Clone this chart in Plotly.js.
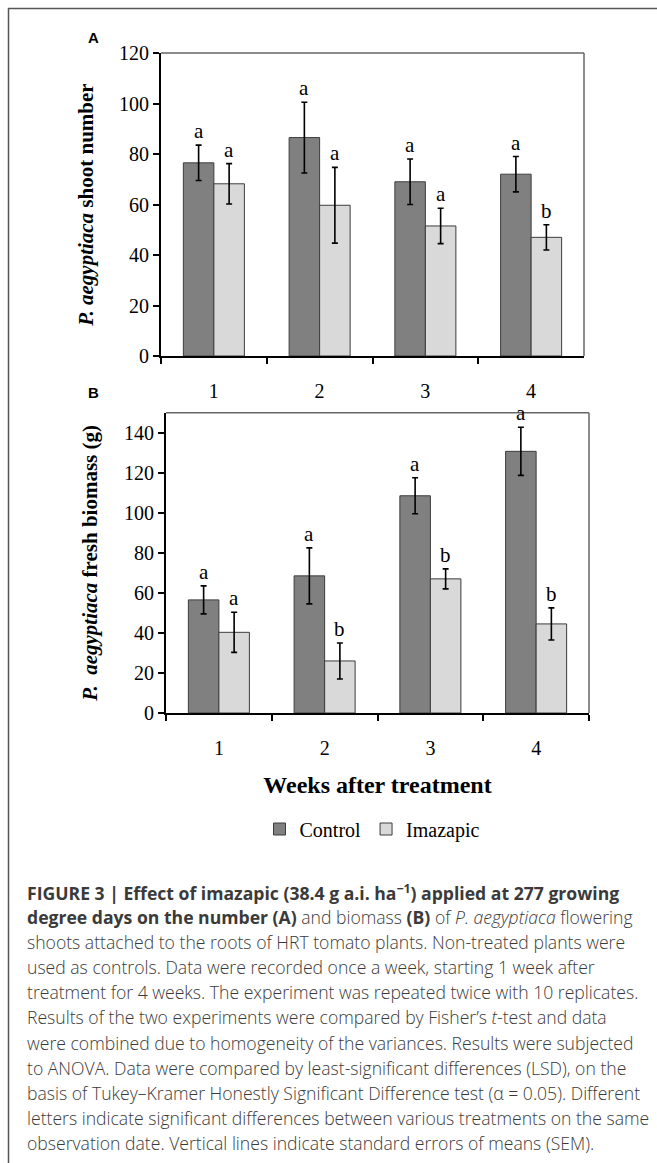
<!DOCTYPE html>
<html>
<head>
<meta charset="utf-8">
<script src="https://cdn.plot.ly/plotly-3.0.1.min.js"></script>
<style>html,body{margin:0;padding:0;background:#fff;}#chart{width:657px;height:1163px;}</style>
</head>
<body>
<div id="chart"></div>
<script>
// ---- data ----
var weeks = ['1', '2', '3', '4'];
var seriesNames = ['Control', 'Imazapic'];

var shootControl = [76.5, 86.5, 69.0, 72.0];
var shootControlErr = [7, 14, 9, 7];
var shootImazapic = [68.2, 59.7, 51.5, 47.0];
var shootImazapicErr = [8, 15, 7, 5];

var massControl = [56.5, 68.5, 108.5, 130.7];
var massControlErr = [7, 14, 9, 12];
var massImazapic = [40.3, 26.0, 67.0, 44.5];
var massImazapicErr = [10, 9, 5, 8];

var lettersShootControl = ['a', 'a', 'a', 'a'];
var lettersShootImazapic = ['a', 'a', 'a', 'b'];
var lettersMassControl = ['a', 'a', 'a', 'a'];
var lettersMassImazapic = ['a', 'b', 'b', 'b'];

var captionLines = [
  '<b>FIGURE 3 | Effect of imazapic (38.4 g a.i. ha<sup>\u22121</sup>) applied at 277 growing</b>',
  '<b>degree days on the number (A)</b> and biomass <b>(B)</b> of <i>P. aegyptiaca</i> flowering',
  'shoots attached to the roots of HRT tomato plants. Non-treated plants were',
  'used as controls. Data were recorded once a week, starting 1 week after',
  'treatment for 4 weeks. The experiment was repeated twice with 10 replicates.',
  'Results of the two experiments were compared by Fisher\u2019s <i>t</i>-test and data',
  'were combined due to homogeneity of the variances. Results were subjected',
  'to ANOVA. Data were compared by least-significant differences (LSD), on the',
  'basis of Tukey\u2013Kramer Honestly Significant Difference test (\u03b1 = 0.05). Different',
  'letters indicate significant differences between various treatments on the same',
  'observation date. Vertical lines indicate standard errors of means (SEM).'
];

// ---- styling ----
var W = 657, H = 1163;
var SERIF = 'Liberation Serif, Times New Roman, serif';
var SANS = 'Liberation Sans, Arial, sans-serif';
var CAPTION = 'Open Sans, Liberation Sans, Arial, sans-serif';
var ctrlColor = '#808080', imaColor = '#d9d9d9', edge = '#3c3c3c';
function px(x) { return x / W; }
function py(y) { return 1 - y / H; }

function barTrace(name, y, err, color, xa, ya, showLegend) {
  return {
    type: 'bar', name: name, x: weeks, y: y, xaxis: xa, yaxis: ya,
    marker: {color: color, line: {color: edge, width: 1}},
    error_y: {type: 'data', array: err, visible: true, color: '#000', thickness: 1.6, width: 3},
    showlegend: showLegend, legendgroup: name, hoverinfo: 'x+y'
  };
}

var data = [
  barTrace(seriesNames[0], shootControl, shootControlErr, ctrlColor, 'x', 'y', true),
  barTrace(seriesNames[1], shootImazapic, shootImazapicErr, imaColor, 'x', 'y', true),
  barTrace(seriesNames[0], massControl, massControlErr, ctrlColor, 'x2', 'y2', false),
  barTrace(seriesNames[1], massImazapic, massImazapicErr, imaColor, 'x2', 'y2', false)
];

var annotations = [];
function addLetters(letters, vals, errs, xa, ya, shift) {
  for (var i = 0; i < weeks.length; i++) {
    annotations.push({
      x: i, y: vals[i] + errs[i], xref: xa, yref: ya,
      xshift: shift, yshift: 0, yanchor: 'bottom', xanchor: 'center',
      text: letters[i], showarrow: false,
      font: {family: SERIF, size: 21, color: '#000'}
    });
  }
}
addLetters(lettersShootControl, shootControl, shootControlErr, 'x', 'y', -15.25);
addLetters(lettersShootImazapic, shootImazapic, shootImazapicErr, 'x', 'y', 15.25);
addLetters(lettersMassControl, massControl, massControlErr, 'x2', 'y2', -15.25);
addLetters(lettersMassImazapic, massImazapic, massImazapicErr, 'x2', 'y2', 15.25);

annotations.push({x: px(93), y: py(37), xref: 'paper', yref: 'paper', text: '<b>A</b>', showarrow: false,
  xanchor: 'center', yanchor: 'middle', font: {family: SANS, size: 15, color: '#000'}});
annotations.push({x: px(93), y: py(393), xref: 'paper', yref: 'paper', text: '<b>B</b>', showarrow: false,
  xanchor: 'center', yanchor: 'middle', font: {family: SANS, size: 15, color: '#000'}});

for (var k = 0; k < captionLines.length; k++) {
  annotations.push({
    x: px(25), y: py(892 + k * 25.1), xref: 'paper', yref: 'paper',
    xanchor: 'left', yanchor: 'middle', align: 'left', showarrow: false,
    text: captionLines[k], font: {family: CAPTION, size: 17.6, color: '#3a3a3a', weight: 300}
  });
}

function xAxis(domain, anchor, title) {
  var ax = {
    domain: domain, anchor: anchor, type: 'category', range: [-0.5, 3.5], autorange: false,
    showline: true, linecolor: '#000', linewidth: 2,
    ticks: 'outside', tickson: 'boundaries', ticklen: 6, tickwidth: 2, tickcolor: '#000',
    showgrid: false, zeroline: false, fixedrange: true,
    ticklabelstandoff: 16,
    tickfont: {family: SERIF, size: 20, color: '#000'}
  };
  if (title) ax.title = title;
  return ax;
}
function yAxis(domain, anchor, range, title, standoff) {
  return {
    domain: domain, anchor: anchor, range: range, autorange: false, dtick: 20, tick0: 0,
    showline: true, linecolor: '#000', linewidth: 2,
    ticks: 'outside', ticklen: 6, tickwidth: 2, tickcolor: '#000',
    showgrid: false, zeroline: false, fixedrange: true,
    tickfont: {family: SERIF, size: 20, color: '#000'},
    title: {text: title, standoff: standoff, font: {family: SERIF, size: 21, color: '#000'}}
  };
}

var layout = {
  width: W, height: H,
  margin: {l: 0, r: 0, t: 0, b: 0, pad: 0},
  paper_bgcolor: '#fff', plot_bgcolor: '#fff',
  barmode: 'group', bargap: 0.423, bargroupgap: 0,
  showlegend: true,
  legend: {orientation: 'h', x: px(372), xanchor: 'center', y: py(829), yanchor: 'middle',
    font: {family: SERIF, size: 20, color: '#000'}, itemwidth: 30, tracegroupgap: 0},
  xaxis: xAxis([px(161), px(584)], 'y'),
  yaxis: yAxis([py(356), py(53)], 'x', [0, 120], '<b><i>P. aegyptiaca</i> shoot number</b>', 20),
  xaxis2: xAxis([px(166), px(589)], 'y2',
    {text: '<b>Weeks after treatment</b>', standoff: 18, font: {family: SERIF, size: 24, color: '#000'}}),
  yaxis2: yAxis([py(713), py(412.7)], 'x2', [0, 150], '<b><i>P.  aegyptiaca</i> fresh biomass (g)</b>', 21),
  annotations: annotations,
  shapes: [
    {type: 'line', xref: 'paper', yref: 'paper', x0: px(8), x1: 1, y0: py(8.5), y1: py(8.5), line: {color: '#555', width: 1.5}},
    {type: 'line', xref: 'paper', yref: 'paper', x0: px(8.5), x1: px(8.5), y0: 0, y1: py(8), line: {color: '#555', width: 1.5}},
    {type: 'line', xref: 'x domain', yref: 'y domain', x0: 0, x1: 1, y0: 1, y1: 1, line: {color: '#666', width: 1.5}},
    {type: 'line', xref: 'x domain', yref: 'y domain', x0: 1, x1: 1, y0: 0, y1: 1, line: {color: '#666', width: 1.5}},
    {type: 'line', xref: 'x2 domain', yref: 'y2 domain', x0: 0, x1: 1, y0: 1, y1: 1, line: {color: '#666', width: 1.5}},
    {type: 'line', xref: 'x2 domain', yref: 'y2 domain', x0: 1, x1: 1, y0: 0, y1: 1, line: {color: '#666', width: 1.5}}
  ]
};

Plotly.newPlot('chart', data, layout, {displayModeBar: false, staticPlot: true});
</script>
</body>
</html>
